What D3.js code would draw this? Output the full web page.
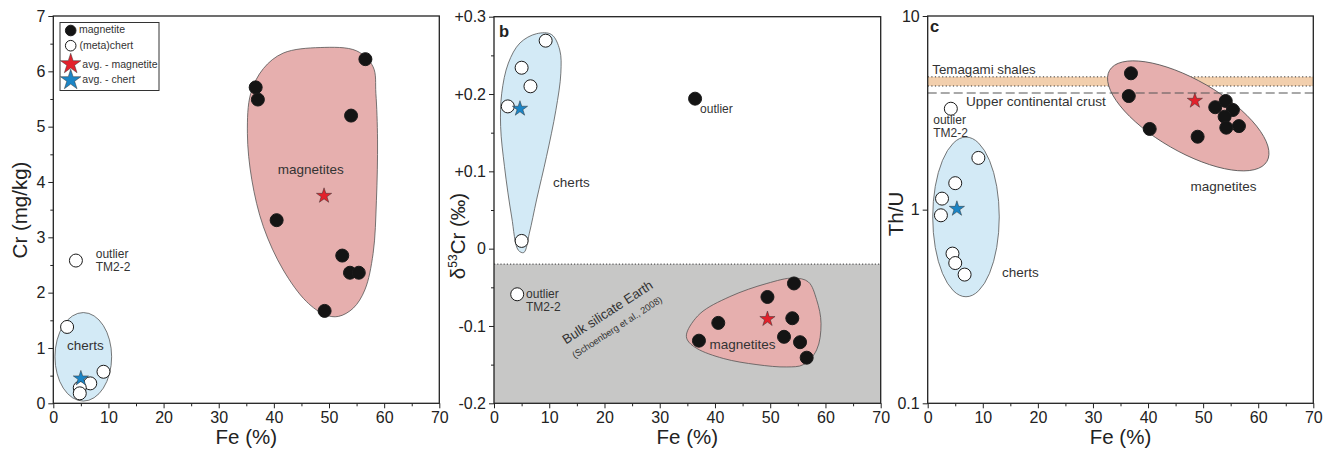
<!DOCTYPE html>
<html><head><meta charset="utf-8">
<script src="https://cdn.jsdelivr.net/npm/d3@7"></script>
<style>
html,body{margin:0;padding:0;background:#fff;}
svg{display:block;font-family:"Liberation Sans",Arial,Helvetica,sans-serif;}
</style></head><body>
<svg id="chart" width="1340" height="449"></svg>
<script>
// ---------- shared ----------
const feTicks = [0, 10, 20, 30, 40, 50, 60, 70];
const feMinorTicks = [5, 15, 25, 35, 45, 55, 65];

// ---------- panel a : Cr vs Fe ----------
const aMagFe = [56.6, 36.7, 37.1, 54.0, 40.5, 52.4, 53.8, 55.4, 49.2];
const aMagCr = [6.22, 5.71, 5.49, 5.20, 3.31, 2.67, 2.36, 2.36, 1.67];
const aChertFe = [4.1, 2.5, 9.1, 6.7, 4.8, 4.8];
const aChertCr = [2.58, 1.38, 0.57, 0.36, 0.28, 0.18];
const aAvgMag = [49.1, 3.75];
const aAvgChert = [5.0, 0.45];
const aCrTicks = [0, 1, 2, 3, 4, 5, 6, 7];
const aCrMinor = [0.5, 1.5, 2.5, 3.5, 4.5, 5.5, 6.5];
// envelope outlines (data space)
const aMagEnvFe = [58.0, 55.0, 48.4, 41.7, 38.1, 35.8, 35.2, 36.0, 38.1, 41.7, 45.9, 49.3, 51.7, 54.4, 56.5, 58.0, 58.6, 58.8, 58.5];
const aMagEnvCr = [6.08, 6.37, 6.43, 6.33, 6.05, 5.60, 4.88, 4.04, 3.19, 2.41, 1.84, 1.60, 1.57, 1.72, 2.05, 2.71, 3.67, 4.76, 5.60];
const aChertEnv = [5.44, 0.84, 5.14, 0.80]; // centre Fe, centre Cr, half-width Fe, half-height Cr

// ---------- panel b : d53Cr vs Fe ----------
const bMagFe = [36.4, 54.3, 49.5, 54.0, 40.6, 37.1, 52.5, 55.4, 56.6];
const bMagD53 = [0.194, -0.045, -0.0625, -0.090, -0.096, -0.119, -0.114, -0.121, -0.141];
const bChertFe = [9.35, 5.0, 6.6, 2.5, 5.0, 4.2];
const bChertD53 = [0.269, 0.234, 0.210, 0.184, 0.010, -0.059];
const bAvgMag = [49.5, -0.091];
const bAvgChert = [4.7, 0.181];
const bTicks = [-0.2, -0.1, 0, 0.1, 0.2, 0.3];
const bTickLabels = ["-0.2", "-0.1", "0", "+0.1", "+0.2", "+0.3"];
const bMinor = [-0.15, -0.05, 0.05, 0.15, 0.25];
const bBseRange = [-0.2, -0.02];
const bChertEnvFe = [7.7, 10.4, 11.9, 12.1, 11.2, 9.5, 7.7, 6.4, 5.4, 4.4, 3.2, 1.9, 1.2, 1.4, 2.6, 4.7];
const bChertEnvD = [0.278, 0.277, 0.257, 0.227, 0.179, 0.119, 0.063, 0.020, -0.005, -0.002, 0.041, 0.106, 0.158, 0.201, 0.240, 0.266];
const bMagEnvFe = [34.9, 37.3, 42.7, 49.4, 54.2, 56.9, 58.4, 59.2, 58.4, 56.0, 53.0, 47.6, 41.5, 36.7, 35.0];
const bMagEnvD = [-0.109, -0.084, -0.062, -0.045, -0.038, -0.043, -0.066, -0.097, -0.131, -0.150, -0.153, -0.150, -0.142, -0.129, -0.118];

// ---------- panel c : Th/U vs Fe ----------
const cMagFe = [36.9, 36.5, 40.3, 49.0, 52.2, 54.1, 55.4, 53.9, 54.2, 56.5];
const cMagThU = [5.06, 3.86, 2.61, 2.38, 3.38, 3.64, 3.27, 3.02, 2.65, 2.70];
const cChertFe = [4.2, 9.2, 5.0, 2.6, 2.4, 4.5, 5.0, 6.7];
const cChertThU = [3.32, 1.85, 1.37, 1.14, 0.935, 0.593, 0.530, 0.462];
const cAvgMag = [48.5, 3.65];
const cAvgChert = [5.3, 1.01];
const cTicks = [0.1, 1, 10];
const cTickLabels = ["0.1", "1", "10"];
const cTemagami = [4.35, 4.85];
const cUCC = 4.0;
const cChertEnv = [6.95, 2.37, 0.355, 6.04]; // centre Fe, top Th/U, bottom Th/U, half-width Fe
const cMagEnv = [47.3, 3.05, 16.5, 6.5, 30]; // centre Fe, centre Th/U, semi-axes (Fe units), tilt deg

// ---------- styles ----------
const INK = "#222", TXT = "#333";
const PINK = "#e6afae", BLUE = "#d3eaf6", GREY = "#c7c7c6", TAN = "#f2cfad";
const RED = "#e3212b", STARBLUE = "#1b85c6";

const svg = d3.select("#chart");

const panels = {
  a: {x: [53.3, 439.3], y: [403.3, 16]},
  b: {x: [494, 880.7], y: [403.3, 16.7]},
  c: {x: [927.7, 1313.3], y: [403.3, 16]}
};

function drawAxes(g, x, y, yTicks, yLabels, yMinor) {
  const [ya, yb] = y.range();
  const [xa, xb] = x.range();
  const fix = s => {
    s.select(".domain").remove();
    s.selectAll("line").attr("stroke", INK).attr("stroke-width", 1);
    s.selectAll("text").attr("font-family", null).attr("font-size", 16).attr("fill", INK);
    s.attr("font-family", null).attr("font-size", null);
  };
  g.append("g").attr("transform", `translate(0,${ya})`)
    .call(d3.axisBottom(x).tickValues(feTicks).tickSize(5).tickPadding(3).tickFormat(d3.format("d"))).call(fix);
  g.append("g").attr("transform", `translate(0,${ya})`)
    .call(d3.axisBottom(x).tickValues(feMinorTicks).tickSize(3).tickFormat("")).call(fix);
  g.append("g").attr("transform", `translate(${xa},0)`)
    .call(d3.axisLeft(y).tickValues(yTicks).tickSize(5).tickPadding(3).tickFormat((d, i) => yLabels[i])).call(fix);
  if (yMinor) g.append("g").attr("transform", `translate(${xa},0)`)
    .call(d3.axisLeft(y).tickValues(yMinor).tickSize(3).tickFormat("")).call(fix);
  g.append("rect").attr("x", xa).attr("y", yb).attr("width", xb - xa).attr("height", ya - yb)
    .attr("fill", "none").attr("stroke", INK).attr("stroke-width", 1.3);
  g.append("text").attr("x", (xa + xb) / 2).attr("y", 444).attr("text-anchor", "middle")
    .attr("font-size", 20.5).attr("fill", INK).text("Fe (%)");
}

function points(g, xs, ys, x, y, filled) {
  g.append("g").selectAll("circle").data(xs).join("circle")
    .attr("cx", d => x(d)).attr("cy", (d, i) => y(ys[i])).attr("r", 6.5)
    .attr("fill", filled ? "#141414" : "#fff").attr("stroke", "#1a1a1a").attr("stroke-width", 1);
}
function star(g, p, x, y, color, size) {
  g.append("path").attr("d", d3.symbol(d3.symbolStar, size || 72)())
    .attr("transform", `translate(${x(p[0])},${y(p[1])})`)
    .attr("fill", color).attr("stroke", "#333").attr("stroke-width", 0.5);
}
function label(g, txt, px, py, anchor, size, extra) {
  const t = g.append("text").attr("x", px).attr("y", py).attr("dy", "0.35em")
    .attr("text-anchor", anchor || "start").attr("font-size", size || 12).attr("fill", TXT).text(txt);
  return t;
}
function blob(g, xs, ys, x, y, fill) {
  const line = d3.line().curve(d3.curveCatmullRomClosed.alpha(0.5));
  g.append("path").attr("d", line(xs.map((d, i) => [x(d), y(ys[i])])))
    .attr("fill", fill).attr("stroke", "#555").attr("stroke-width", 0.8);
}

// ================= Panel a =================
{
  const P = panels.a;
  const x = d3.scaleLinear().domain([0, 70]).range(P.x);
  const y = d3.scaleLinear().domain([0, 7]).range(P.y);
  const g = svg.append("g");
  blob(g, aMagEnvFe, aMagEnvCr, x, y, PINK);
  g.append("ellipse").attr("cx", x(aChertEnv[0])).attr("cy", y(aChertEnv[1]))
    .attr("rx", x(aChertEnv[2]) - x(0)).attr("ry", y(0) - y(aChertEnv[3]))
    .attr("fill", BLUE).attr("stroke", "#555").attr("stroke-width", 0.8);
  drawAxes(g, x, y, aCrTicks, aCrTicks.map(String), aCrMinor);
  points(g, aMagFe, aMagCr, x, y, true);
  points(g, aChertFe, aChertCr, x, y, false);
  star(g, aAvgMag, x, y, RED);
  star(g, aAvgChert, x, y, STARBLUE);
  label(g, "magnetites", x(46.7), y(4.23), "middle", 13.5);
  label(g, "cherts", x(5.8), y(1.04), "middle", 13.5);
  label(g, "outlier", x(7.7), y(2.71), "start", 12);
  label(g, "TM2-2", x(7.7), y(2.47), "start", 12);
  g.append("text").attr("transform", "translate(27,210) rotate(-90)").attr("text-anchor", "middle")
    .attr("font-size", 20.5).attr("fill", INK).text("Cr (mg/kg)");
  // legend
  const L = g.append("g");
  L.append("rect").attr("x", 60).attr("y", 22.5).attr("width", 99).attr("height", 68)
    .attr("fill", "#fff").attr("stroke", "#333").attr("stroke-width", 1);
  L.append("circle").attr("cx", 70.7).attr("cy", 30.5).attr("r", 5.3).attr("fill", "#141414").attr("stroke", "#1a1a1a");
  L.append("circle").attr("cx", 70.7).attr("cy", 45.7).attr("r", 5.3).attr("fill", "#fff").attr("stroke", "#1a1a1a");
  L.append("path").attr("d", d3.symbol(d3.symbolStar, 130)()).attr("transform", "translate(70.7,64)")
    .attr("fill", RED).attr("stroke", "#333").attr("stroke-width", 0.5);
  L.append("path").attr("d", d3.symbol(d3.symbolStar, 130)()).attr("transform", "translate(70.7,80)")
    .attr("fill", STARBLUE).attr("stroke", "#333").attr("stroke-width", 0.5);
  label(L, "magnetite", 79, 29.5, "start", 10.5);
  label(L, "(meta)chert", 79.5, 45.2, "start", 10.5);
  label(L, "avg. - magnetite", 82.3, 64, "start", 10.5);
  label(L, "avg. - chert", 82.3, 79.3, "start", 10.5);
}

// ================= Panel b =================
{
  const P = panels.b;
  const x = d3.scaleLinear().domain([0, 70]).range(P.x);
  const y = d3.scaleLinear().domain([-0.2, 0.3]).range(P.y);
  const g = svg.append("g");
  g.append("rect").attr("x", x(0)).attr("y", y(bBseRange[1])).attr("width", x(70) - x(0))
    .attr("height", y(bBseRange[0]) - y(bBseRange[1])).attr("fill", GREY);
  g.append("line").attr("x1", x(0)).attr("x2", x(70)).attr("y1", y(bBseRange[1])).attr("y2", y(bBseRange[1]))
    .attr("stroke", "#333").attr("stroke-width", 1).attr("stroke-dasharray", "1.2,2");
  blob(g, bChertEnvFe, bChertEnvD, x, y, BLUE);
  blob(g, bMagEnvFe, bMagEnvD, x, y, PINK);
  drawAxes(g, x, y, bTicks, bTickLabels, bMinor);
  points(g, bMagFe, bMagD53, x, y, true);
  points(g, bChertFe, bChertD53, x, y, false);
  star(g, bAvgMag, x, y, RED);
  star(g, bAvgChert, x, y, STARBLUE);
  g.append("text").attr("x", 499).attr("y", 36.5).attr("font-size", 16.5).attr("font-weight", "bold")
    .attr("fill", INK).text("b");
  label(g, "cherts", x(10.7), y(0.0853), "start", 13.5);
  label(g, "outlier", x(37.3), y(0.1815), "start", 12);
  label(g, "outlier", x(5.8), y(-0.0586), "start", 12);
  label(g, "TM2-2", x(5.8), y(-0.075), "start", 12);
  label(g, "magnetites", x(39.0), y(-0.1237), "start", 13.5);
  g.append("text").attr("transform", `translate(${x(21.0)},${y(-0.087)}) rotate(-33)`)
    .attr("text-anchor", "middle").attr("font-size", 13.2).attr("fill", TXT).text("Bulk silicate Earth");
  g.append("text").attr("transform", `translate(${x(22.6)},${y(-0.105)}) rotate(-33)`)
    .attr("text-anchor", "middle").attr("font-size", 9.3).attr("fill", TXT).text("(Schoenberg et al., 2008)");
  const t = g.append("text").attr("transform", "translate(465,236) rotate(-90)").attr("text-anchor", "middle")
    .attr("font-size", 20.5).attr("fill", INK);
  t.append("tspan").text("δ");
  t.append("tspan").attr("font-size", 12).attr("dy", -8).text("53");
  t.append("tspan").attr("dy", 8).text("Cr (‰)");
}

// ================= Panel c =================
{
  const P = panels.c;
  const x = d3.scaleLinear().domain([0, 70]).range(P.x);
  const y = d3.scaleLog().domain([0.1, 10]).range(P.y);
  const g = svg.append("g");
  // Temagami band
  g.append("rect").attr("x", x(0)).attr("y", y(cTemagami[1])).attr("width", x(70) - x(0))
    .attr("height", y(cTemagami[0]) - y(cTemagami[1])).attr("fill", TAN);
  cTemagami.forEach(v => g.append("line").attr("x1", x(0)).attr("x2", x(70)).attr("y1", y(v)).attr("y2", y(v))
    .attr("stroke", "#333").attr("stroke-width", 1).attr("stroke-dasharray", "1.2,2.4"));
  // envelopes
  const ymid = (y(cChertEnv[1]) + y(cChertEnv[2])) / 2;
  g.append("ellipse").attr("cx", x(cChertEnv[0])).attr("cy", ymid)
    .attr("rx", x(cChertEnv[3]) - x(0)).attr("ry", (y(cChertEnv[2]) - y(cChertEnv[1])) / 2)
    .attr("fill", BLUE).attr("stroke", "#555").attr("stroke-width", 0.8);
  g.append("ellipse").attr("transform", `translate(${x(cMagEnv[0])},${y(cMagEnv[1])}) rotate(${cMagEnv[4]})`)
    .attr("rx", x(cMagEnv[2]) - x(0)).attr("ry", x(cMagEnv[3]) - x(0))
    .attr("fill", PINK).attr("stroke", "#555").attr("stroke-width", 0.8);
  // UCC
  g.append("line").attr("x1", x(0)).attr("x2", x(70) + 3).attr("y1", y(cUCC)).attr("y2", y(cUCC))
    .attr("stroke", "#555").attr("stroke-width", 1.1).attr("stroke-dasharray", "9,4");
  drawAxes(g, x, y, cTicks, cTickLabels, null);
  points(g, cMagFe, cMagThU, x, y, true);
  points(g, cChertFe, cChertThU, x, y, false);
  star(g, cAvgMag, x, y, RED);
  star(g, cAvgChert, x, y, STARBLUE);
  g.append("text").attr("x", 930).attr("y", 32.3).attr("font-size", 16.5).attr("font-weight", "bold")
    .attr("fill", INK).text("c");
  label(g, "Temagami shales", x(0.83), y(5.31), "start", 13.3);
  label(g, "Upper continental crust", x(6.95), y(3.61), "start", 13.6);
  label(g, "outlier", x(1.0), y(2.90), "start", 12);
  label(g, "TM2-2", x(1.0), y(2.48), "start", 12);
  label(g, "magnetites", x(53.7), y(1.32), "middle", 13.5);
  label(g, "cherts", x(13.5), y(0.473), "start", 13.5);
  g.append("text").attr("transform", "translate(902.5,214) rotate(-90)").attr("text-anchor", "middle")
    .attr("font-size", 20.5).attr("fill", INK).text("Th/U");
}
</script></body></html>
